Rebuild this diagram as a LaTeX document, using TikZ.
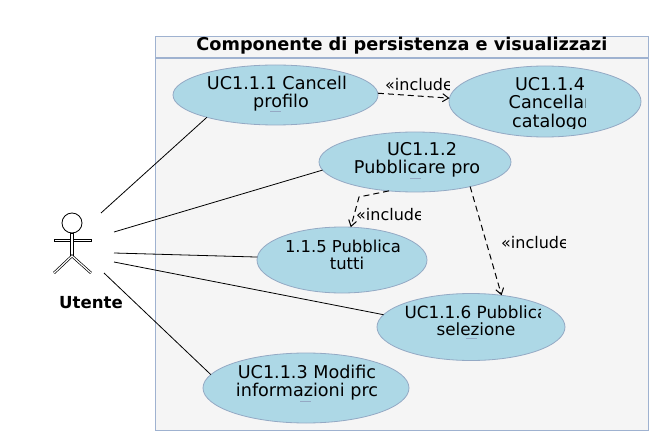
\documentclass[tikz,border=0pt]{standalone}
\usepackage{fontspec}
\setmainfont{DejaVu Sans}
\usepackage{tikz}
\usetikzlibrary{shapes.geometric, arrows.meta, positioning}
\definecolor{boxline}{HTML}{9FB2D0}
\definecolor{boxfill}{HTML}{F5F5F5}
\definecolor{caseblue}{HTML}{ADD8E6}
\definecolor{caseline}{HTML}{94A9C4}

\begin{document}
\begin{tikzpicture}[
    x=1pt, y=-1pt,
    usecase/.style={draw=caseline, fill=caseblue, ellipse, inner sep=0pt, outer sep=0pt, line width=0.8pt},
    casetext/.style={font=\fontsize{17.6}{18}\selectfont, align=center, inner sep=0pt},
    inctext/.style={font=\fontsize{16}{18}\selectfont, anchor=west, inner sep=0pt},
    frame/.style={draw=boxline, fill=boxfill, line width=1pt},
    arrow/.style={-{Straight Barb[length=6pt,width=8pt]}, dash pattern=on 6pt off 4pt, line width=1pt},
    link/.style={line width=0.8pt},
    stick/.style={draw, fill=white, line width=0.7pt}
]
    \useasboundingbox (0,0) rectangle (659,441);

    % System box
    \path[frame] (155.5,36.5) rectangle (648,430);
    \draw[boxline, line width=1.5pt] (155.5,58) -- (648,58);
    \begin{scope}
        \clip (156,37) rectangle (647,53.5);
        \node[font=\fontsize{17.7}{20}\selectfont\bfseries, inner sep=0pt] (title) at (402,46) {Componente di persistenza e visualizzazi};
    \end{scope}

    % Use cases
    \node[usecase, minimum width=205pt, minimum height=60pt] (uc111) at (275.5,95) {};
    \node[usecase, minimum width=192pt, minimum height=71pt] (uc114) at (545,101.5) {};
    \node[usecase, minimum width=192pt, minimum height=60pt] (uc112) at (415,162) {};
    \node[usecase, minimum width=170pt, minimum height=66pt] (uc115) at (342,260) {};
    \node[usecase, minimum width=188pt, minimum height=67pt] (uc116) at (471,327) {};
    \node[usecase, minimum width=206pt, minimum height=70pt] (uc113) at (306,388) {};

    % Case names, cut off at the right
    \node[casetext] (t111) at (277,94) {UC1.1.1 Cancell\\\hspace*{8pt}profilo};
    \begin{scope}
        \clip (440,60) rectangle (585.5,128.5);
        \node[casetext, font=\fontsize{17.6}{18.5}\selectfont] (t114) at (550,104) {UC1.1.4\\Cancellar\\catalogo};
    \end{scope}
    \node[casetext] (t112) at (417,160) {\hspace*{10pt}UC1.1.2\\Pubblicare pro};
    \node[casetext, font=\fontsize{16.4}{16.5}\selectfont] (t115) at (343,255) {1.1.5 Pubblica\\\hspace*{8pt}tutti};
    \begin{scope}
        \clip (380,295) rectangle (540.5,345);
        \node[casetext, font=\fontsize{16.8}{17}\selectfont] (t116) at (476,321) {UC1.1.6 Pubblica\\selezione};
    \end{scope}
    \node[casetext] (t113) at (307,383) {UC1.1.3 Modific\\informazioni prc};
    \foreach \ux/\uy in {270/111, 410/178, 300/401, 466/338}
        \draw[caseline, line width=0.6pt] (\ux,\uy) -- ++(11,0);

    % Includes
    \draw[arrow] (uc111.1) -- (uc114.178.5);
    \draw[arrow] (uc112.228) -- (359,197) -- (uc115.75);
    \draw[arrow] (uc112.-24.5) -- (uc116.46);

    \begin{scope}
        \clip (380,70) rectangle (449,95);
        \node[inctext] (inc1) at (385,85) {«include};
    \end{scope}
    \begin{scope}
        \clip (350,205) rectangle (420.5,225);
        \node[inctext] (inc2) at (356,215) {«include};
    \end{scope}
    \begin{scope}
        \clip (495,232) rectangle (565.5,255);
        \node[inctext] (inc3) at (501,243) {«include};
    \end{scope}

    % Actor
    \draw[line width=0.8pt, fill=white] (72,223) circle (10);
    \path[stick] (54,239) rectangle (91,241.5);
    \path[stick] (70.5,233) rectangle (73.5,256);
    \draw[double=white, double distance=1.2pt, line width=0.7pt] (54,273) -- (72,256) -- (91,273);
    \node[font=\fontsize{16.6}{18}\selectfont\bfseries, inner sep=0pt] (utente) at (91,303) {Utente};

    \coordinate (a1) at (101,213);
    \coordinate (a2) at (114,232);
    \coordinate (a3) at (114,253);
    \coordinate (a4) at (114,262);
    \coordinate (a5) at (104,273);
    \draw[link] (a1) -- (uc111.198);
    \draw[link] (a2) -- (uc112.185);
    \draw[link] (a3) -- (uc115.178);
    \draw[link] (a4) -- (uc116.172);
    \draw[link] (a5) -- (uc113.172);

\end{tikzpicture}
\end{document}
